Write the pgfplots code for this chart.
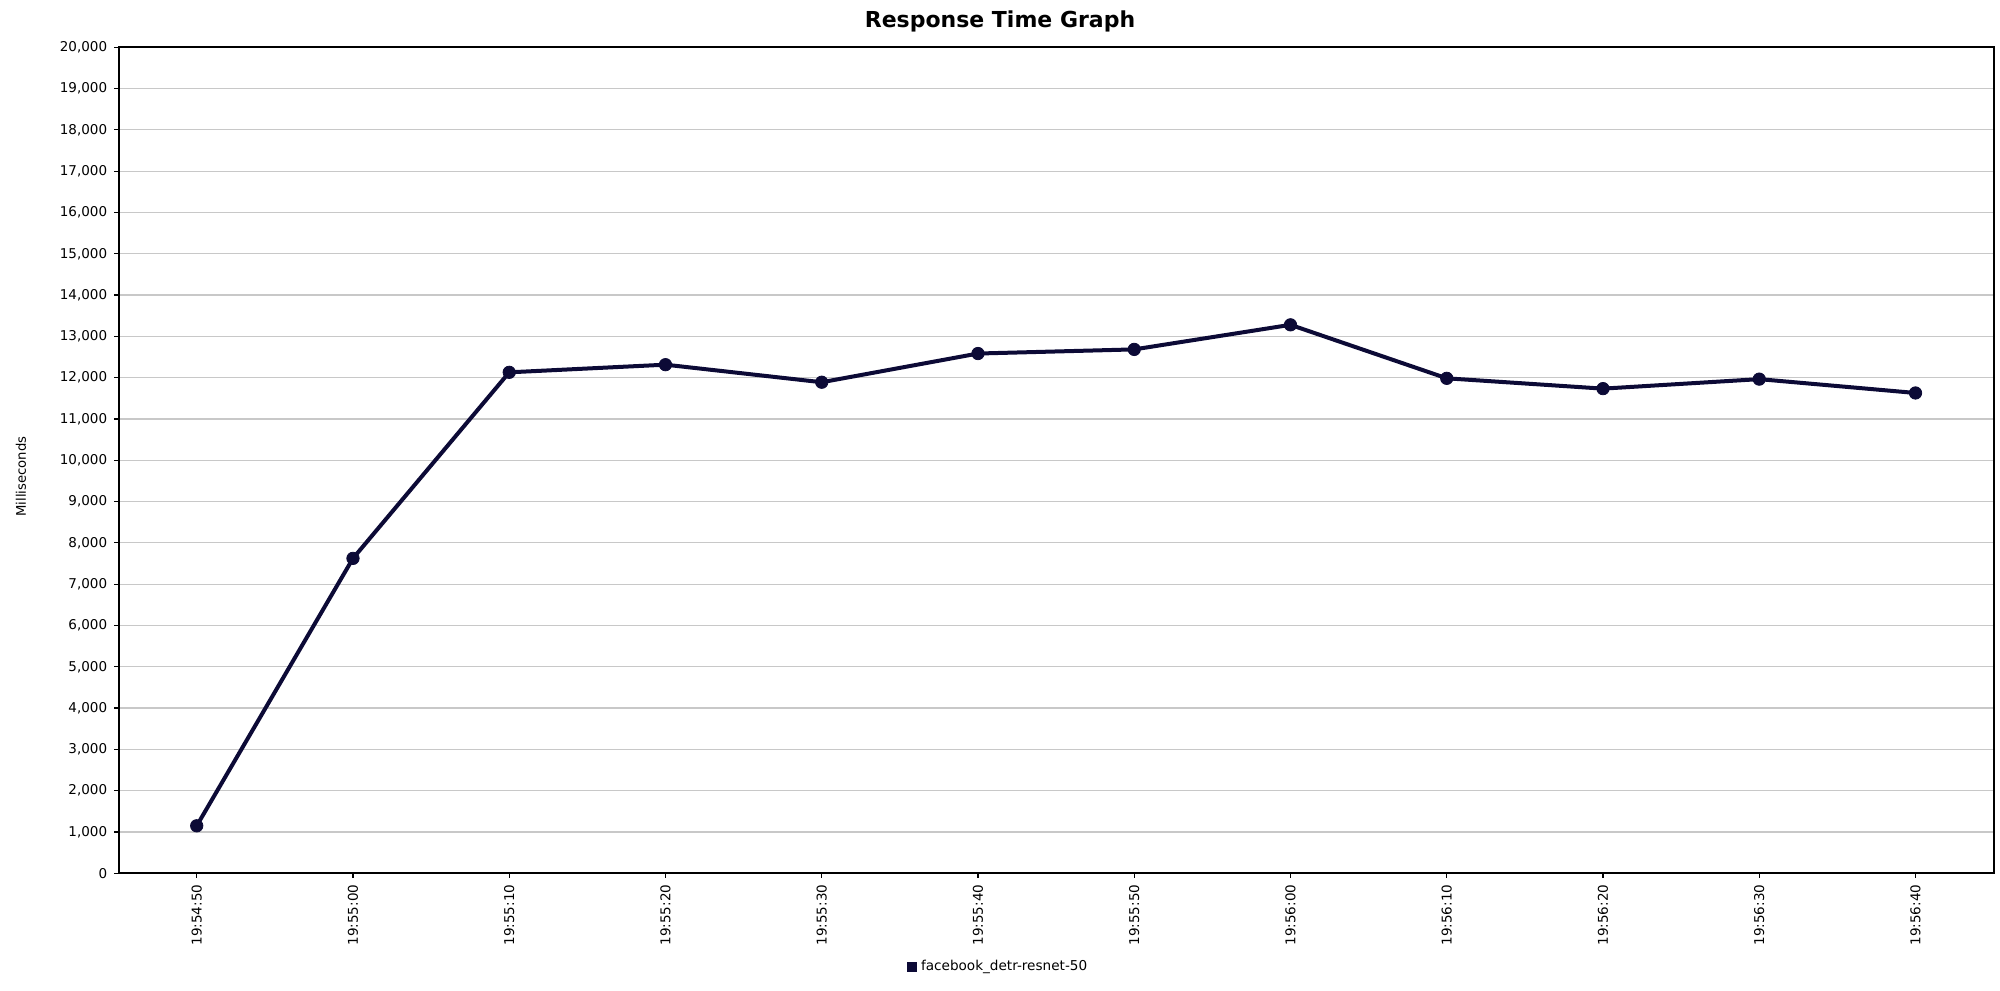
\documentclass[border=0pt]{standalone}
\usepackage{fontspec}
\setmainfont{DejaVu Sans}
\usepackage{pgfplots}
\pgfplotsset{compat=1.18}
\definecolor{navy}{RGB}{12,10,54}
\definecolor{gridc}{RGB}{200,200,200}
\begin{document}
\begin{tikzpicture}
\useasboundingbox (0,0) rectangle (1000pt,495pt);
\begin{axis}[
  at={(59.3pt,58.35pt)}, anchor=south west,
  scale only axis, width=937.5pt, height=413pt,
  xmin=-0.5, xmax=11.5, ymin=0, ymax=20000,
  xtick={0,...,11},
  xticklabels={19:54:50,19:55:00,19:55:10,19:55:20,19:55:30,19:55:40,19:55:50,19:56:00,19:56:10,19:56:20,19:56:30,19:56:40},
  ytick={0,1000,...,20000},
  scaled y ticks=false,
  ymajorgrids, major grid style={gridc, line width=0.6pt},
  axis line style={black, line width=1pt},
  tick align=outside, major tick length=2.2pt,
  tick style={black, line width=0.6pt},
  xtick pos=bottom, ytick pos=left,
  tick label style={font=\fontsize{6.75pt}{8pt}\selectfont},
  xticklabel style={rotate=90, anchor=east},
  /pgf/number format/1000 sep={,},
  /pgf/number format/assume math mode=true,
  legend style={at={(0.4696,-0.1131)}, anchor=center, draw=none, fill=none, font=\fontsize{6.8pt}{8pt}\selectfont},
  legend image code/.code={\fill[navy] (0pt,-1.5pt) rectangle (3pt,1.5pt);},
]
\addplot[navy, line width=2pt, mark=*, mark size=3.1pt, mark options={fill=navy, draw=navy, line width=0.4pt}] coordinates {
(0,1150) (1,7625) (2,12130) (3,12315) (4,11890) (5,12585) (6,12685) (7,13280) (8,11985) (9,11735) (10,11965) (11,11630)
};
\addlegendentry{facebook\_detr-resnet-50}
\end{axis}
\node[font=\bfseries\fontsize{11pt}{13pt}\selectfont, anchor=base] at (500pt,481.35pt) {Response Time Graph};
\node[rotate=90, font=\fontsize{6.6pt}{8pt}\selectfont] at (10.5pt,256.65pt) {Milliseconds};
\end{tikzpicture}
\end{document}
